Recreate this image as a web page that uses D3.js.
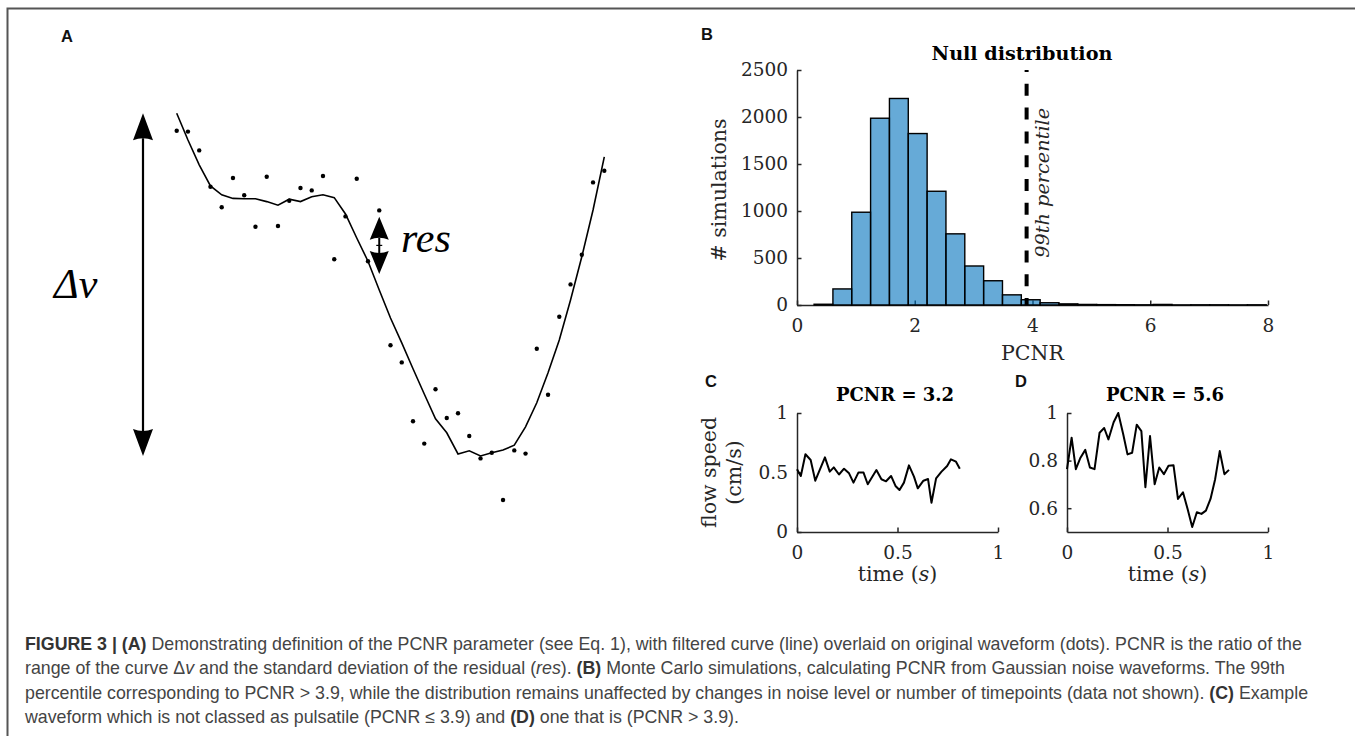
<!DOCTYPE html>
<html><head><meta charset="utf-8">
<script src="https://cdn.jsdelivr.net/npm/d3@7"></script>
<style>body{margin:0;background:#fff} svg{display:block}</style>
</head><body>
<svg id="fig" width="1355" height="738"></svg>
<script>
// ---------------- DATA ----------------
// Panel A: original waveform samples (dots) and filtered curve, arbitrary units
const dotsA = [92.3,92.1,87.4,78.3,73.2,80.5,76.2,68.3,80.8,68.5,74.8,78.0,77.4,81.0,60.2,70.9,80.3,59.7,72.4,38.7,34.4,19.7,14.1,27.7,20.5,21.7,16.0,10.4,11.8,0,12.4,11.6,37.8,26.3,45.8,53.9,61.3,79.4,82.3];
const curveA = [96.7,90,83.8,78.5,76.3,75.4,75.3,75.3,74.6,73.7,75.2,74.6,75.8,76.3,75.6,71.5,65.5,59.7,52.5,45.5,39.3,32.8,26.5,20.3,16.8,11.5,12.3,11,11.8,12.5,13.7,18.3,24.3,31.8,40,50,60.8,72.5,85.8];
const resArrowA = {index: 18, from: 70.8, to: 56.5};

// Panel B: null distribution histogram
const binEdges = [0.29,0.61,0.93,1.25,1.57,1.89,2.21,2.53,2.85,3.17,3.49,3.81,4.13,4.45,4.77,5.09,5.41,5.73,6.05,6.37,6.69,7.01,7.33,7.65,7.97];
const binCounts = [8,171,987,1987,2197,1824,1210,757,415,258,108,56,24,12,6,4,3,2,6,1,2,2,1,2];
const percentile99 = 3.9;
const xTicksB = [0,2,4,6,8];
const yTicksB = [0,500,1000,1500,2000,2500];

// Panel C: PCNR = 3.2 waveform
const timeC = [0,0.019,0.042,0.068,0.091,0.139,0.163,0.183,0.209,0.234,0.259,0.281,0.306,0.331,0.352,0.395,0.420,0.443,0.468,0.490,0.510,0.532,0.557,0.582,0.601,0.629,0.652,0.669,0.692,0.719,0.747,0.766,0.791,0.810];
const speedC = [0.527,0.471,0.653,0.605,0.431,0.627,0.507,0.543,0.483,0.532,0.493,0.415,0.501,0.499,0.401,0.521,0.443,0.426,0.471,0.387,0.353,0.415,0.560,0.465,0.367,0.431,0.445,0.246,0.451,0.507,0.555,0.611,0.591,0.532];
const xTicksC = [0,0.5,1];
const yTicksC = [0,0.5,1];

// Panel D: PCNR = 5.6 waveform
const timeD = [0,0.023,0.044,0.067,0.091,0.114,0.137,0.162,0.185,0.206,0.232,0.255,0.280,0.301,0.324,0.347,0.370,0.390,0.413,0.436,0.459,0.482,0.505,0.530,0.552,0.577,0.600,0.623,0.646,0.669,0.691,0.714,0.737,0.760,0.783,0.806];
const speedD = [0.764,0.896,0.764,0.812,0.845,0.771,0.764,0.917,0.937,0.889,0.961,1.0,0.910,0.826,0.833,0.951,0.924,0.688,0.903,0.701,0.771,0.743,0.778,0.780,0.639,0.667,0.597,0.521,0.583,0.576,0.590,0.639,0.722,0.840,0.743,0.761];
const xTicksD = [0,0.5,1];
const yTicksD = [0.6,0.8,1];

const captionLines = [
  [["FIGURE 3 | (A)","b"],[" Demonstrating definition of the PCNR parameter (see Eq. 1), with filtered curve (line) overlaid on original waveform (dots). PCNR is the ratio of the",""]],
  [["range of the curve Δ",""],["v","i"],[" and the standard deviation of the residual (",""],["res","i"],["). ",""],["(B)","b"],[" Monte Carlo simulations, calculating PCNR from Gaussian noise waveforms. The 99th",""]],
  [["percentile corresponding to PCNR > 3.9, while the distribution remains unaffected by changes in noise level or number of timepoints (data not shown). ",""],["(C)","b"],[" Example",""]],
  [["waveform which is not classed as pulsatile (PCNR ≤ 3.9) and ",""],["(D)","b"],[" one that is (PCNR > 3.9).",""]]
];

// ---------------- DRAWING ----------------
const svg = d3.select("#fig");
const SERIF = "'DejaVu Serif', serif";
const SANS = "'Liberation Sans', Arial, sans-serif";
const AX = "#262626";
const TICK = 18.5, LABEL = 20.5;

function fitFont(sel, target) {
  const n = sel.node();
  const base = parseFloat(sel.attr("font-size"));
  const len = n.getComputedTextLength();
  sel.attr("font-size", (base * target / len).toFixed(2));
}

// frame
svg.append("path").attr("d","M7.5,736V8.5H1355").attr("fill","none").attr("stroke","#555").attr("stroke-width",2);

// panel letters
[["A",61,42],["B",701,40],["C",705,387],["D",1015,387]].forEach(([t,x,y]) =>
  svg.append("text").attr("x",x).attr("y",y).attr("font-family",SANS).attr("font-weight","bold")
     .attr("font-size",16.5).attr("fill","#111").text(t));

// ---- Panel A ----
const xA = d3.scaleLinear().domain([0, dotsA.length - 1]).range([176.7, 604.3]);
const yA = d3.scaleLinear().domain([0, 100]).range([500, 100]);
const gA = svg.append("g");
gA.append("path").datum(curveA)
  .attr("d", d3.line().x((d,i)=>xA(i)).y(d=>yA(d)))
  .attr("fill","none").attr("stroke","#000").attr("stroke-width",1.6);
gA.selectAll("circle").data(dotsA).join("circle")
  .attr("cx",(d,i)=>xA(i)).attr("cy",d=>yA(d)).attr("r",2.2).attr("fill","#000");

function dblArrow(g, x, yTop, yBot, headLen, headHalf, w) {
  g.append("line").attr("x1",x).attr("x2",x).attr("y1",yTop+headLen-2).attr("y2",yBot-headLen+2)
    .attr("stroke","#000").attr("stroke-width",w);
  g.append("path").attr("d",`M${x},${yTop}L${x+headHalf},${yTop+headLen}Q${x},${yTop+headLen-4} ${x-headHalf},${yTop+headLen}Z`).attr("fill","#000");
  g.append("path").attr("d",`M${x},${yBot}L${x+headHalf},${yBot-headLen}Q${x},${yBot-headLen+4} ${x-headHalf},${yBot-headLen}Z`).attr("fill","#000");
}
const curveMax = d3.max(curveA), curveMin = d3.min(curveA);
dblArrow(gA, 143, yA(curveMax), yA(curveMin), 27, 10, 2.2);
dblArrow(gA, xA(resArrowA.index), yA(resArrowA.from), yA(resArrowA.to), 23, 9.5, 2);
gA.append("line").attr("x1",xA(resArrowA.index)-3).attr("x2",xA(resArrowA.index)+3)
  .attr("y1",(yA(resArrowA.from)+yA(resArrowA.to))/2).attr("y2",(yA(resArrowA.from)+yA(resArrowA.to))/2)
  .attr("stroke","#000").attr("stroke-width",1.2);

gA.append("text").attr("x",54).attr("y",298).attr("font-family","'Liberation Serif', serif")
  .attr("font-style","italic").attr("font-size",42).attr("fill","#000").text("Δv");
gA.append("text").attr("x",401).attr("y",252).attr("font-family","'Liberation Serif', serif")
  .attr("font-style","italic").attr("font-size",42).attr("fill","#000").text("res");

// ---- axes helper ----
function axes(g, x, y, xt, yt, yFmt) {
  const gx = g.append("g").attr("transform",`translate(0,${y.range()[0]})`)
    .call(d3.axisBottom(x).tickValues(xt).tickSize(-4.5).tickSizeOuter(0).tickPadding(14).tickFormat(d3.format("")));
  const gy = g.append("g").attr("transform",`translate(${x.range()[0]},0)`)
    .call(d3.axisLeft(y).tickValues(yt).tickSize(-4.5).tickSizeOuter(0).tickPadding(9).tickFormat(yFmt || d3.format("")));
  [gx, gy].forEach(a => {
    a.selectAll("path,line").attr("stroke",AX).attr("stroke-width",1.5);
    a.selectAll("text").attr("font-family",SERIF).attr("font-size",TICK).attr("fill",AX);
    a.attr("font-family",null).attr("font-size",null);
  });
  return [gx, gy];
}

// ---- Panel B ----
const xB = d3.scaleLinear().domain([0,8]).range([797,1268]);
const yB = d3.scaleLinear().domain([0,2500]).range([305,70]);
const gB = svg.append("g");
axes(gB, xB, yB, xTicksB, yTicksB);
gB.selectAll("rect").data(binCounts).join("rect")
  .attr("x",(d,i)=>xB(binEdges[i])).attr("width",(d,i)=>xB(binEdges[i+1])-xB(binEdges[i]))
  .attr("y",d=>yB(d)).attr("height",d=>yB(0)-yB(d))
  .attr("fill","#0072BD").attr("fill-opacity",0.6).attr("stroke","#000").attr("stroke-width",1.4);
gB.append("line").attr("x1",xB(percentile99)).attr("x2",xB(percentile99))
  .attr("y1",yB(2500)).attr("y2",yB(0)).attr("stroke","#000").attr("stroke-width",4)
  .attr("stroke-dasharray","12,11.8").attr("stroke-dashoffset",10);
const pt = gB.append("text").attr("transform",`translate(1049,${yB(1300)}) rotate(-90)`)
  .attr("text-anchor","middle").attr("font-family",SERIF).attr("font-style","italic")
  .attr("font-size",18).attr("fill",AX).text("99th percentile");
fitFont(pt, 150);
gB.append("text").attr("x",1022).attr("y",60).attr("text-anchor","middle").attr("font-family",SERIF)
  .attr("font-weight","bold").attr("font-size",19.2).attr("fill","#000").text("Null distribution");
gB.append("text").attr("x",(xB.range()[0]+xB.range()[1])/2).attr("y",360).attr("text-anchor","middle")
  .attr("font-family",SERIF).attr("font-size",LABEL).attr("fill",AX).text("PCNR");
gB.append("text").attr("transform",`translate(726,190) rotate(-90)`).attr("text-anchor","middle")
  .attr("font-family",SERIF).attr("font-size",LABEL).attr("fill",AX).text("# simulations");

// ---- Panels C & D ----
function wavePanel(xr, dom, times, vals, xt, yt, yFmt, title, tx) {
  const x = d3.scaleLinear().domain([0,1]).range(xr);
  const y = d3.scaleLinear().domain(dom).range([532,413]);
  const g = svg.append("g");
  axes(g, x, y, xt, yt, yFmt);
  g.append("path").datum(d3.zip(times, vals))
    .attr("d", d3.line().x(d=>x(d[0])).y(d=>y(d[1])))
    .attr("fill","none").attr("stroke","#000").attr("stroke-width",2).attr("stroke-linejoin","round");
  g.append("text").attr("x",tx).attr("y",401).attr("text-anchor","middle").attr("font-family",SERIF)
    .attr("font-weight","bold").attr("font-size",18).attr("fill","#000").text(title);
  const tl = g.append("text").attr("x",(xr[0]+xr[1])/2).attr("y",581).attr("text-anchor","middle")
    .attr("font-family",SERIF).attr("font-size",LABEL).attr("fill",AX);
  tl.append("tspan").text("time (");
  tl.append("tspan").attr("font-style","italic").text("s");
  tl.append("tspan").text(")");
  return g;
}
wavePanel([797,998],[0,1],timeC,speedC,xTicksC,yTicksC,d3.format(""),"PCNR = 3.2",895);
wavePanel([1067,1268],[0.5,1],timeD,speedD,xTicksD,yTicksD,d3.format(""),"PCNR = 5.6",1165);
svg.append("text").attr("transform","translate(716,472.5) rotate(-90)").attr("text-anchor","middle")
  .attr("font-family",SERIF).attr("font-size",LABEL).attr("fill",AX).text("flow speed");
svg.append("text").attr("transform","translate(741,472.5) rotate(-90)").attr("text-anchor","middle")
  .attr("font-family",SERIF).attr("font-size",LABEL).attr("fill",AX).text("(cm/s)");

// ---- Caption ----
const capBase = [649.5, 674, 698.5, 723];
const capTexts = captionLines.map((segs, li) => {
  const t = svg.append("text").attr("x",25).attr("y",capBase[li]).attr("font-family",SANS)
    .attr("font-size",16).attr("fill","#444");
  segs.forEach(([s, st]) => {
    const ts = t.append("tspan").text(s);
    if (st === "b") ts.attr("font-weight","bold").attr("fill","#333");
    if (st === "i") ts.attr("font-style","italic");
  });
  return t;
});
const l0 = capTexts[0].node().getComputedTextLength();
const capSize = 16 * 1278 / l0;
capTexts.forEach(t => t.attr("font-size", capSize.toFixed(2)));
</script>
</body></html>
